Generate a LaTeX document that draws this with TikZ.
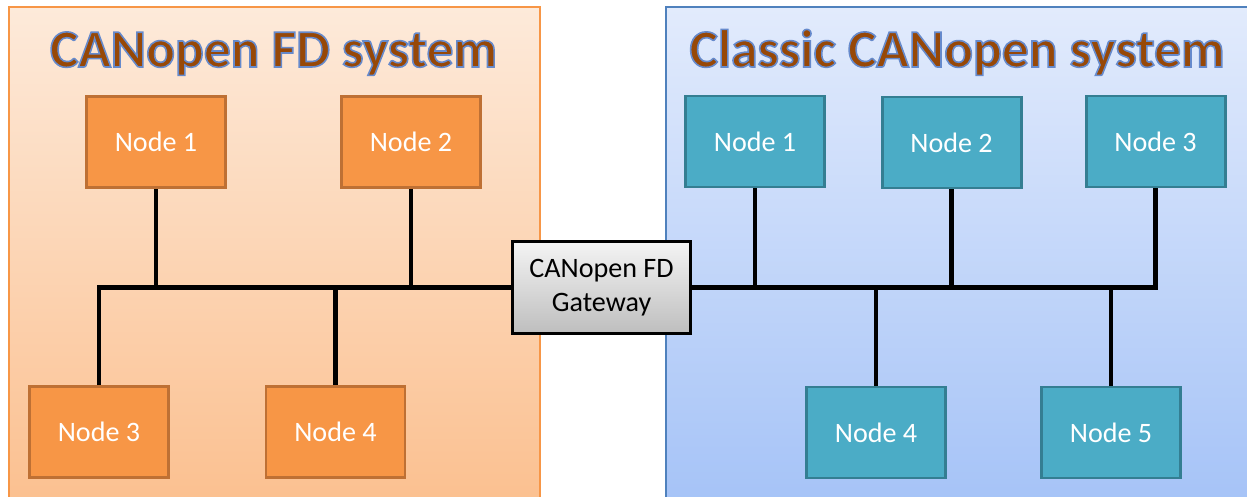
\documentclass[tikz,border=0pt]{standalone}
\usepackage{fontspec}
\setmainfont{Carlito}
\usetikzlibrary{calc}
\definecolor{fdfill}{RGB}{247,150,70}
\definecolor{fdline}{RGB}{190,112,52}
\definecolor{fdtop}{RGB}{253,234,218}
\definecolor{fdbottom}{RGB}{251,191,142}
\definecolor{fdframe}{RGB}{247,150,70}
\definecolor{ccfill}{RGB}{75,172,198}
\definecolor{ccline}{RGB}{52,126,146}
\definecolor{cctop}{RGB}{226,235,252}
\definecolor{ccbottom}{RGB}{164,194,247}
\definecolor{ccframe}{RGB}{79,129,189}
\definecolor{gwtop}{RGB}{244,244,244}
\definecolor{gwbottom}{RGB}{190,190,190}
\definecolor{titlebrown}{RGB}{151,72,7}
\newcommand\glowtext[1]{\special{pdf:literal direct 2 Tr 0.9 w 0.40 0.54 0.80 RG}#1\special{pdf:literal direct 0 Tr}}

\begin{document}
\begin{tikzpicture}[fdnode/.style={draw=fdline, fill=fdfill, line width=1.7pt, minimum width=2.78cm, minimum height=1.82cm, text=white, font=\fontsize{16}{19}\selectfont},
cannode/.style={fdnode, draw=ccline, fill=ccfill},
gate/.style={draw=black, line width=1.4pt, top color=gwtop, bottom color=gwbottom, minimum width=3.56cm, minimum height=1.84cm, align=center, font=\fontsize{16}{19.3}\selectfont},
title/.style={anchor=base, text=titlebrown, font=\fontsize{30.5}{36}\selectfont\bfseries},
bus/.style={line width=2.3pt}]

\useasboundingbox (0,0) rectangle (24.94,-9.94);
\clip (0,0) rectangle (24.94,-9.94);

\path[draw=fdframe, line width=0.8pt, top color=fdtop, bottom color=fdbottom] (0.18,-0.14) rectangle (10.8,-10.3);
\path[draw=ccframe, line width=0.8pt, top color=cctop, bottom color=ccbottom] (13.32,-0.14) rectangle (25.4,-10.3);

\node[title] (fdtitle) at (5.47,-1.34) {\glowtext{CANopen FD system}};
\node[title] (cctitle) at (19.14,-1.34) {\glowtext{Classic CANopen system}};

\node[fdnode] (f1) at (3.12,-2.84) {Node 1};
\node[fdnode] (f2) at (8.22,-2.84) {Node 2};
\node[fdnode] (f3) at (1.98,-8.64) {Node 3};
\node[fdnode] (f4) at (6.71,-8.64) {Node 4};

\node[cannode] (c1) at (15.10,-2.83) {Node 1};
\node[cannode] (c2) at (19.03,-2.85) {Node 2};
\node[cannode] (c3) at (23.11,-2.83) {Node 3};
\node[cannode] (c4) at (17.52,-8.65) {Node 4};
\node[cannode] (c5) at (22.22,-8.65) {Node 5};

\node[gate] (gw) at (12.03,-5.75) {CANopen FD\\Gateway};

\begin{scope}[bus]
\draw (f3.north) |- (gw.west);
\draw (f1.south) -- (f1.south |- gw.west);
\draw (f2.south) -- (f2.south |- gw.west);
\draw (f4.north) -- (f4.north |- gw.west);
\draw (gw.east) -| (c3.south);
\draw (c1.south) -- (c1.south |- gw.east);
\draw (c2.south) -- (c2.south |- gw.east);
\draw (c4.north) -- (c4.north |- gw.east);
\draw (c5.north) -- (c5.north |- gw.east);
\end{scope}
\end{tikzpicture}
\end{document}
